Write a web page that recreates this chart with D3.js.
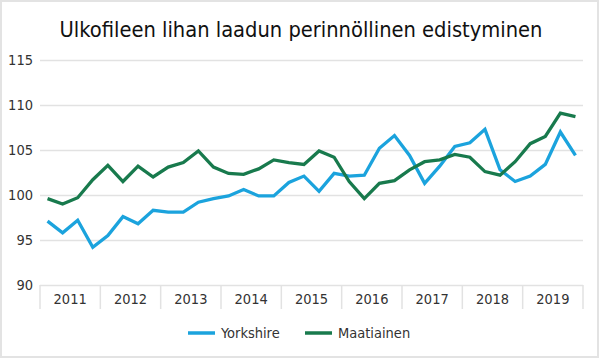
<!DOCTYPE html>
<html>
<head>
<meta charset="utf-8">
<script src="https://cdn.jsdelivr.net/npm/d3@7"></script>
<style>
  html, body { margin: 0; padding: 0; background: #fff; }
  svg { display: block; }
  text { font-family: 'DejaVu Sans Condensed', 'DejaVu Sans', sans-serif; }
</style>
</head>
<body>
<svg id="chart" width="600" height="359"></svg>
<script>
const years = ["2011","2012","2013","2014","2015","2016","2017","2018","2019"];
const quarters = [1,2,3,4];
const yTicks = [90,95,100,105,110,115];
const yorkshire = [97.1,95.8,97.2,94.2, 95.5,97.6,96.8,98.3, 98.1,98.1,99.2,99.6, 99.9,100.6,99.9,99.9,
                   101.4,102.1,100.4,102.4, 102.1,102.2,105.2,106.6, 104.4,101.3,103.2,105.4, 105.8,107.3,102.8,101.5,
                   102.1,103.4,107.0,104.4];
const maatiainen = [99.6,99.0,99.7,101.7, 103.3,101.5,103.2,102.0, 103.1,103.6,104.9,103.1, 102.4,102.3,102.9,103.9,
                    103.6,103.4,104.9,104.2, 101.5,99.6,101.3,101.6, 102.8,103.7,103.9,104.5, 104.2,102.6,102.2,103.7,
                    105.7,106.5,109.1,108.7];
const seriesNames = ["Yorkshire","Maatiainen"];
const colors = ["#1ba3dd","#187a4d"];

const svg = d3.select("#chart");
const W = 600, H = 359;
const m = {left: 40, right: 17, top: 60, bottom: 74};
const FONT = "'DejaVu Sans Condensed', 'DejaVu Sans', sans-serif";

// outer border
svg.append("rect").attr("x",1).attr("y",1).attr("width",W-3).attr("height",H-3)
  .attr("fill","#fff").attr("stroke","#e3e3e3").attr("stroke-width",2);

svg.append("text").attr("x",301).attr("y",36.5).attr("text-anchor","middle")
  .attr("font-size",21.7).attr("fill","#111")
  .text("Ulkofileen lihan laadun perinnöllinen edistyminen");

const x0 = d3.scaleBand().domain(years).range([m.left, W - m.right]);
const keys = [];
years.forEach(y => quarters.forEach(q => keys.push(y + "Q" + q)));
const xq = d3.scalePoint().domain(keys).range([m.left, W - m.right]).padding(0.5);
const y = d3.scaleLinear().domain([90,115]).range([H - m.bottom, m.top]);

// grid
const yAxis = d3.axisLeft(y).tickValues(yTicks).tickSize(-(W - m.left - m.right)).tickPadding(7);
const gy = svg.append("g").attr("transform",`translate(${m.left},0)`).call(yAxis);
gy.select(".domain").remove();
gy.selectAll(".tick line").attr("stroke","#e2e2e2").attr("stroke-width",1.5);
gy.selectAll(".tick text").attr("font-size",14.5).attr("fill","#333").attr("font-family",FONT);

// x axis category separators
const xAxis = d3.axisBottom(x0).tickSize(0).tickPadding(9);
const gx = svg.append("g").attr("transform",`translate(0,${H - m.bottom})`).call(xAxis);
gx.select(".domain").remove();
gx.selectAll(".tick text").attr("font-size",14.5).attr("fill","#333").attr("font-family",FONT);
const seps = years.map(d => x0(d)).concat([x0(years[years.length-1]) + x0.bandwidth()]);
svg.append("g").selectAll("line").data(seps).join("line")
  .attr("x1",d=>d).attr("x2",d=>d).attr("y1",H - m.bottom).attr("y2",H - m.bottom + 24)
  .attr("stroke","#e2e2e2").attr("stroke-width",1.5);

// lines
const line = d3.line().x((d,i) => xq(keys[i])).y(d => y(d));
[yorkshire, maatiainen].forEach((s, k) => {
  svg.append("path").datum(s).attr("d", line).attr("fill","none")
    .attr("stroke", colors[k]).attr("stroke-width",3.3).attr("stroke-linejoin","miter");
});

// legend
const leg = svg.append("g");
const legX = [188, 305];
seriesNames.forEach((n,k) => {
  leg.append("line").attr("x1",legX[k]).attr("x2",legX[k]+27).attr("y1",333).attr("y2",333)
    .attr("stroke",colors[k]).attr("stroke-width",3.5);
  leg.append("text").attr("x",legX[k]+33).attr("y",338).attr("font-size",14.5).attr("fill","#333").text(n);
});
</script>
</body>
</html>
